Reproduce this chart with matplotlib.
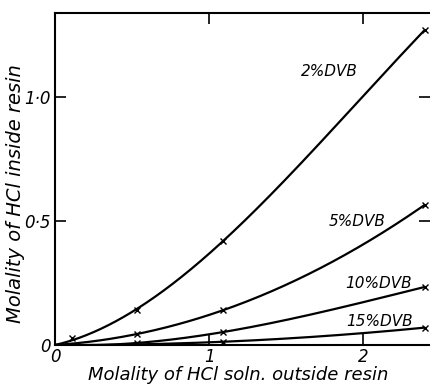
import numpy as np
import matplotlib
matplotlib.use("Agg")
import matplotlib.pyplot as plt

# Data
x_2 = [0.0, 0.11, 0.53, 1.09, 2.40]
y_2 = [0.0, 0.03, 0.14, 0.42, 1.27]
x_5 = [0.0, 0.53, 1.09, 2.40]
y_5 = [0.0, 0.044, 0.14, 0.565]
x_10 = [0.0, 0.53, 1.09, 2.40]
y_10 = [0.0, 0.008, 0.052, 0.234]
x_15 = [0.0, 1.09, 2.40]
y_15 = [0.0, 0.013, 0.07]
series_labels = ["2%DVB", "5%DVB", "10%DVB", "15%DVB"]
x_ticks = [0, 1, 2]
x_ticklabels = ["0", "1", "2"]
y_ticks = [0, 0.5, 1.0]
y_ticklabels = ["0", "0·5", "1·0"]


def smooth(xs, ys, xx):
    """Smooth line through the origin (least-squares polynomial) for drawing."""
    xs = np.asarray(xs, float); ys = np.asarray(ys, float)
    deg = 3 if len(xs) >= 4 else 2
    A = np.vstack([xs**k for k in range(1, deg + 1)]).T
    coef, *_ = np.linalg.lstsq(A, ys, rcond=None)
    return sum(c * xx**(k + 1) for k, c in enumerate(coef))


fig = plt.figure(figsize=(4.30, 3.84), dpi=100)
ax = fig.add_axes([0.128, 0.1016, 0.872, 0.8645])
ax.set_xlim(0, 2.435)
ax.set_ylim(0, 1.339)

series = [(x_2, y_2), (x_5, y_5), (x_10, y_10), (x_15, y_15)]
for xs, ys in series:
    xx = np.linspace(0, xs[-1], 300)
    ax.plot(xx, smooth(xs, ys, xx), color="black", lw=1.6, solid_capstyle="round")
    ax.plot(xs[1:], ys[1:], linestyle="none", marker="x", ms=5, mew=1.0, color="black")

lab_pos = [(1.78, 1.103), (1.96, 0.50), (2.10, 0.25), (2.11, 0.093)]
for (lx, ly), t in zip(lab_pos, series_labels):
    ax.text(lx, ly, t, fontsize=11, style="italic", ha="center", va="center")

ax.spines["right"].set_visible(False)
for s in ["left", "bottom", "top"]:
    ax.spines[s].set_linewidth(1.5)

ax.set_xticks(x_ticks)
ax.set_xticklabels(x_ticklabels, fontsize=12, style="italic")
ax.set_yticks(y_ticks)
ax.set_yticklabels(y_ticklabels, fontsize=12, style="italic")
ax.tick_params(axis="both", direction="in", length=8, width=1.2,
               top=True, right=True, pad=3)
ax.tick_params(axis="x", pad=2)

fig.text(0.555, 0.023, "Molality of HCl soln. outside resin", fontsize=13,
         style="italic", ha="center", va="center")
fig.text(0.036, 0.497, "Molality of HCl inside resin", fontsize=14,
         style="italic", ha="center", va="center", rotation=90)

fig.savefig("out.png", dpi=100)
